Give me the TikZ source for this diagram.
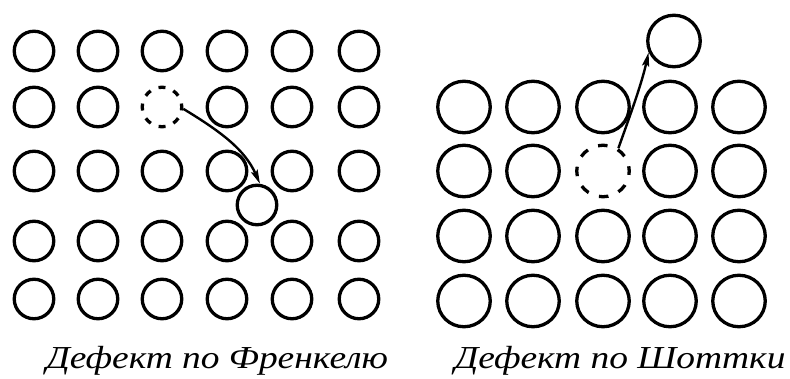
\documentclass[tikz,border=0pt]{standalone}
\usepackage{fontspec}
\setmainfont{Liberation Serif}
\newfontfamily\capfont[FakeStretch=1.17]{Liberation Serif}
\usetikzlibrary{arrows.meta,shapes.geometric}
\begin{document}
\begin{tikzpicture}[x=1pt,y=-1pt,
  site/.style={circle,draw,line width=3.3pt,minimum size=39.5pt,inner sep=0pt},
  bigsite/.style={ellipse,draw,line width=3.3pt,minimum width=52.5pt,minimum height=51.5pt,inner sep=0pt},
  vacsmall/.style={site,dash pattern=on 7pt off 8.5pt,dash phase=3.5pt},
  vacbig/.style={bigsite,dash pattern=on 9.5pt off 11pt,dash phase=4.75pt},
  jump/.style={line width=2.4pt,-{Stealth[length=14pt,width=7pt,inset=2.5pt]}},
  caption/.style={font=\capfont\itshape\fontsize{32}{36}\selectfont,anchor=base,inner sep=0pt}]
\useasboundingbox (0,0) rectangle (790,379);

% Frenkel lattice: 6 columns x 5 rows, one vacant site
\foreach \py [count=\r] in {51,107,171,241,299}{
  \foreach \px [count=\c] in {34,98,162,227,292,359}{
    \ifnum\r\c=23 \else
      \node[site] (L-\r-\c) at (\px,\py) {};
    \fi
  }
}
\node[vacsmall] (L-vac) at (162,107) {};
\node[site] (L-int) at (257,205) {};
\draw[jump] (L-vac.-5) .. controls +(38,23) and +(-15,-34) .. (L-int.82);

% Schottky lattice: 5 columns x 4 rows, one vacant site
\foreach \py [count=\r] in {107,171,236,301}{
  \foreach \px [count=\c] in {464,533,603,670,739}{
    \ifnum\r\c=23 \else
      \node[bigsite] (R-\r-\c) at (\px,\py) {};
    \fi
  }
}
\node[vacbig] (R-vac) at (603,171) {};
\node[bigsite] (R-out) at (674,41) {};
\draw[jump] (R-vac.56) .. controls +(11,-31) and +(-7,32) .. (R-out.204);

% captions
\node[caption] (capL) at (217,368) {Дефект по Френкелю};
\node[caption] (capR) at (620,368) {Дефект по Шоттки};
\end{tikzpicture}
\end{document}
